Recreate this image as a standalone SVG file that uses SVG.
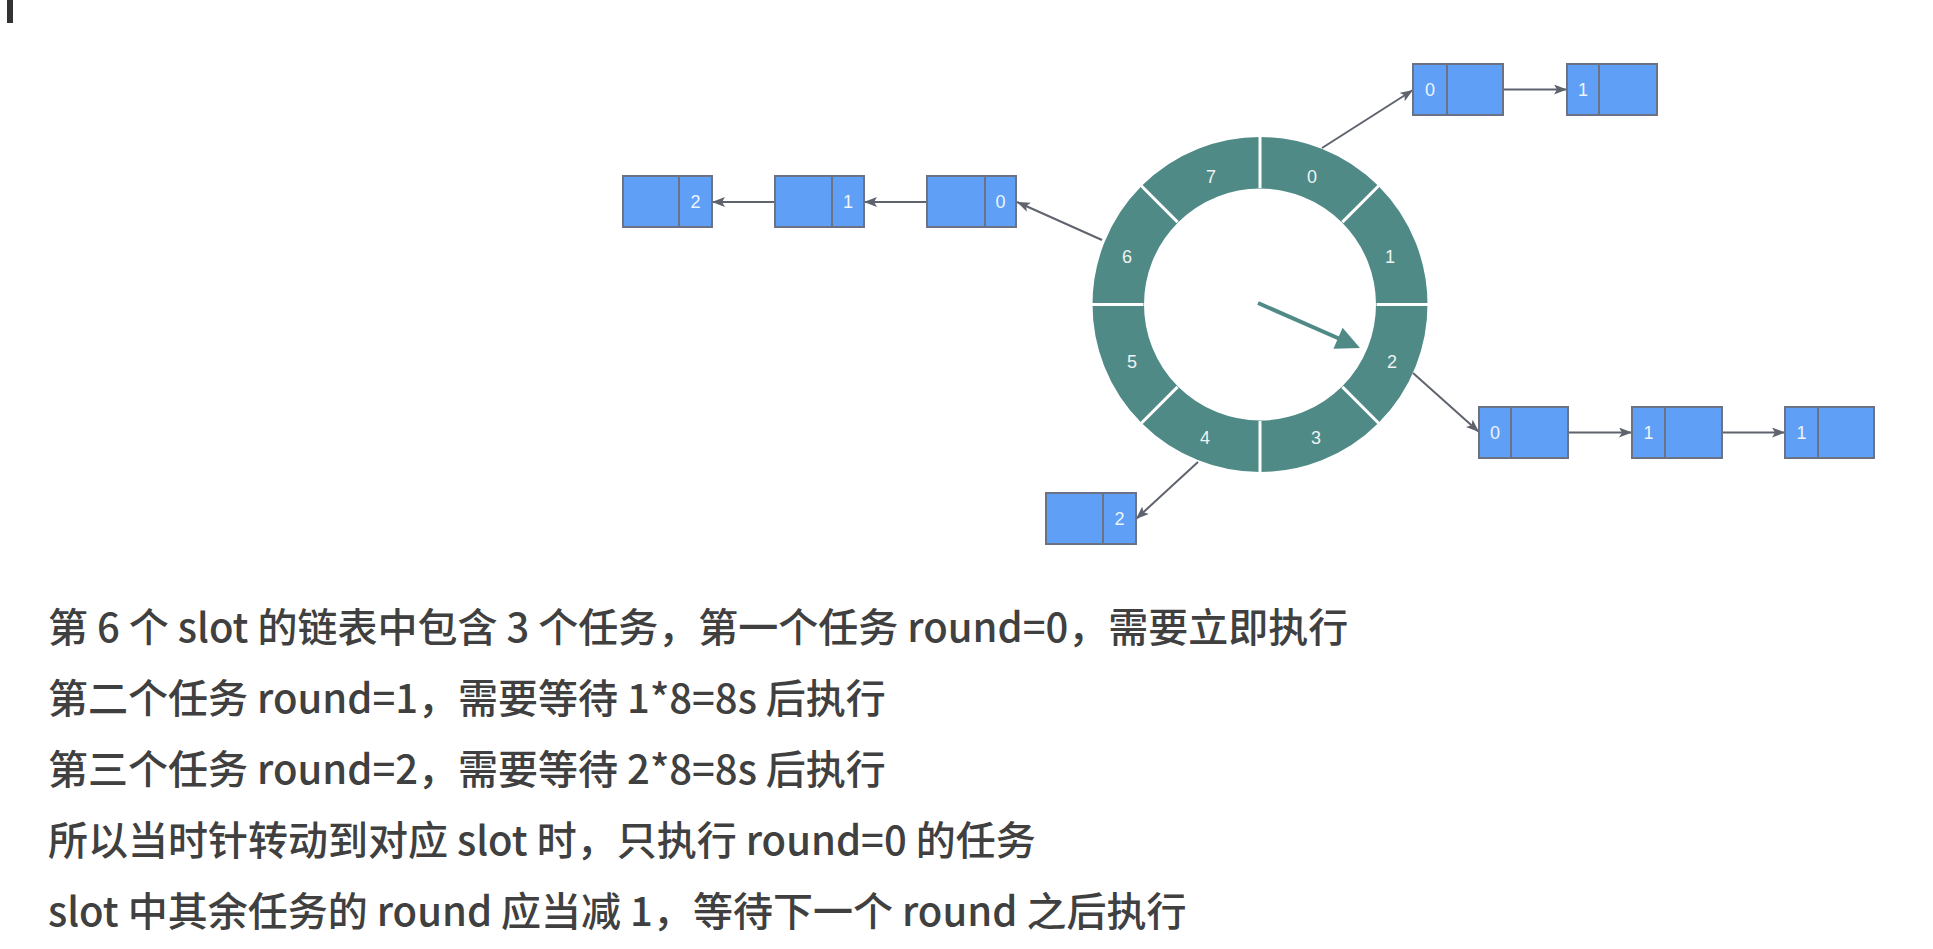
<svg xmlns="http://www.w3.org/2000/svg" width="1933" height="949" viewBox="0 0 1933 949">
<defs>
<style>
.box{fill:#5fa0f6;stroke:#6b7283;stroke-width:2}
.div{stroke:#6b7283;stroke-width:2}
.bl{font-family:"Liberation Sans",Arial,sans-serif;font-size:18px;fill:#eef4fb;text-anchor:middle}
.rl{font-family:"Liberation Sans",Arial,sans-serif;font-size:18px;fill:#eef4f3;text-anchor:middle}
.con{stroke:#5f636d;stroke-width:2;fill:none}
.sep{stroke:#ffffff;stroke-width:3}
.t{font-family:"Noto Sans CJK SC","Noto Sans",sans-serif;font-size:40px;font-weight:500;fill:#404040}
</style>
<marker id="ah" markerUnits="userSpaceOnUse" markerWidth="14" markerHeight="12" refX="13" refY="5" orient="auto">
<path d="M0,0 L13,5 L0,10 L3,5 Z" fill="#5f636d"/>
</marker>
</defs>
<rect width="1933" height="949" fill="#ffffff"/>
<rect x="7" y="0" width="6" height="23" fill="#333333"/>

<g id="wheel">
<circle cx="1260" cy="304.5" r="141.75" fill="none" stroke="#4f8a86" stroke-width="51.5"/>
<g class="sep">
<line x1="1260" y1="188" x2="1260" y2="136"/>
<line x1="1260" y1="421" x2="1260" y2="473"/>
<line x1="1143.5" y1="304.5" x2="1091.5" y2="304.5"/>
<line x1="1376.5" y1="304.5" x2="1428.5" y2="304.5"/>
<line x1="1342.4" y1="222.1" x2="1379.2" y2="185.3"/>
<line x1="1177.6" y1="222.1" x2="1140.8" y2="185.3"/>
<line x1="1342.4" y1="386.9" x2="1379.2" y2="423.7"/>
<line x1="1177.6" y1="386.9" x2="1140.8" y2="423.7"/>
</g>
<text class="rl" x="1312" y="182.5">0</text>
<text class="rl" x="1390" y="262.5">1</text>
<text class="rl" x="1392" y="367.5">2</text>
<text class="rl" x="1316" y="443.5">3</text>
<text class="rl" x="1205" y="443.5">4</text>
<text class="rl" x="1132" y="367.5">5</text>
<text class="rl" x="1127" y="262.5">6</text>
<text class="rl" x="1211" y="182.5">7</text>
<line x1="1258" y1="303" x2="1340" y2="339" stroke="#4f8a86" stroke-width="4"/>
<polygon points="1360,348 1333.4,348.8 1342.6,327.8" fill="#4f8a86"/>
</g>

<g id="connectors">
<line class="con" x1="1102" y1="240" x2="1017" y2="202" marker-end="url(#ah)"/>
<line class="con" x1="927" y1="202" x2="864" y2="202" marker-end="url(#ah)"/>
<line class="con" x1="775" y1="202" x2="712" y2="202" marker-end="url(#ah)"/>
<line class="con" x1="1322" y1="148" x2="1413" y2="90" marker-end="url(#ah)"/>
<line class="con" x1="1503" y1="89.5" x2="1567" y2="89.5" marker-end="url(#ah)"/>
<line class="con" x1="1413" y1="373" x2="1479" y2="432" marker-end="url(#ah)"/>
<line class="con" x1="1568" y1="432.5" x2="1632" y2="432.5" marker-end="url(#ah)"/>
<line class="con" x1="1722" y1="432.5" x2="1785" y2="432.5" marker-end="url(#ah)"/>
<line class="con" x1="1198" y1="462" x2="1136" y2="519" marker-end="url(#ah)"/>
</g>

<g id="node-s6-0"><rect class="box" x="927" y="176" width="89" height="51"/><line class="div" x1="985" y1="176" x2="985" y2="227"/><text class="bl" x="1000.5" y="208">0</text></g>
<g id="node-s6-1"><rect class="box" x="775" y="176" width="89" height="51"/><line class="div" x1="832" y1="176" x2="832" y2="227"/><text class="bl" x="848" y="208">1</text></g>
<g id="node-s6-2"><rect class="box" x="623" y="176" width="89" height="51"/><line class="div" x1="679" y1="176" x2="679" y2="227"/><text class="bl" x="695.5" y="208">2</text></g>

<g id="node-s0-0"><rect class="box" x="1413" y="64" width="90" height="51"/><line class="div" x1="1447" y1="64" x2="1447" y2="115"/><text class="bl" x="1430" y="96">0</text></g>
<g id="node-s0-1"><rect class="box" x="1567" y="64" width="90" height="51"/><line class="div" x1="1599" y1="64" x2="1599" y2="115"/><text class="bl" x="1583" y="96">1</text></g>

<g id="node-s2-0"><rect class="box" x="1479" y="407" width="89" height="51"/><line class="div" x1="1511" y1="407" x2="1511" y2="458"/><text class="bl" x="1495" y="439">0</text></g>
<g id="node-s2-1"><rect class="box" x="1632" y="407" width="90" height="51"/><line class="div" x1="1665" y1="407" x2="1665" y2="458"/><text class="bl" x="1648.5" y="439">1</text></g>
<g id="node-s2-2"><rect class="box" x="1785" y="407" width="89" height="51"/><line class="div" x1="1818" y1="407" x2="1818" y2="458"/><text class="bl" x="1801.5" y="439">1</text></g>

<g id="node-s4-0"><rect class="box" x="1046" y="493" width="90" height="51"/><line class="div" x1="1103" y1="493" x2="1103" y2="544"/><text class="bl" x="1119.5" y="525">2</text></g>

<g id="notes">
<text class="t" x="48" y="642">第 6 个 slot 的链表中包含 3 个任务，第一个任务 round=0，需要立即执行</text>
<text class="t" x="48" y="713">第二个任务 round=1，需要等待 1*8=8s 后执行</text>
<text class="t" x="48" y="784">第三个任务 round=2，需要等待 2*8=8s 后执行</text>
<text class="t" x="48" y="855">所以当时针转动到对应 slot 时，只执行 round=0 的任务</text>
<text class="t" x="48" y="926">slot 中其余任务的 round 应当减 1，等待下一个 round 之后执行</text>
</g>
</svg>
